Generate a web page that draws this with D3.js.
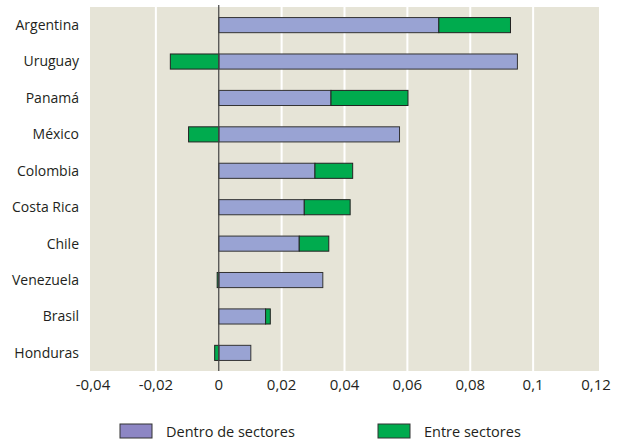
<!DOCTYPE html>
<meta charset="utf-8">
<script src="https://d3js.org/d3.v7.min.js"></script>
<style>
  body { margin: 0; background: #fff; }
  text { font-family: "Open Sans", Lato, sans-serif; fill: #231f20; }
</style>
<body>
<div id="my_dataviz"></div>
<script>
// countries, top to bottom
var countries = ["Argentina", "Uruguay", "Panamá", "México", "Colombia", "Costa Rica", "Chile", "Venezuela", "Brasil", "Honduras"];
// within-sector component
var dentro = [0.0700, 0.0950, 0.0357, 0.0575, 0.0306, 0.0272, 0.0256, 0.0331, 0.0149, 0.0102];
// between-sector component
var entre = [0.0228, -0.0154, 0.0245, -0.0096, 0.0120, 0.0146, 0.0094, -0.0005, 0.0015, -0.0013];
var xTicks = [-0.04, -0.02, 0, 0.02, 0.04, 0.06, 0.08, 0.1, 0.12];
var seriesNames = ["Dentro de sectores", "Entre sectores"];
var colors = ["#99a3d3", "#00ab4e"];

var width = 622, height = 444;

var svg = d3.select("#my_dataviz")
  .append("svg")
    .attr("width", width)
    .attr("height", height);

var x = d3.scaleLinear()
    .domain([-0.04, 0.12])
    .range([93, 596]);

var y = d3.scaleBand()
    .domain(countries)
    .range([7, 371])
    .paddingInner(0.585)
    .paddingOuter(0.29);

// background
svg.append("rect")
    .attr("x", x(-0.04) - 3)
    .attr("y", 7)
    .attr("width", x(0.12) - x(-0.04) + 6)
    .attr("height", 364)
    .attr("fill", "#e6e4d7");

// white gridlines
svg.selectAll(".grid")
  .data(xTicks.filter(function(d) { return d > -0.04 && d < 0.12 && d !== 0; }))
  .enter().append("line")
    .attr("x1", function(d) { return x(d); })
    .attr("x2", function(d) { return x(d); })
    .attr("y1", 7)
    .attr("y2", 371)
    .attr("stroke", "#fff")
    .attr("stroke-width", 2);

var rows = countries.map(function(c, i) {
  return { name: c, dentro: dentro[i], entre: entre[i] };
});

// bars: blue from 0, green stacked after (or to the left if negative)
var g = svg.append("g");
rows.forEach(function(d) {
  var yy = y(d.name), h = y.bandwidth();
  g.append("rect")
    .attr("x", x(0))
    .attr("y", yy)
    .attr("width", x(d.dentro) - x(0))
    .attr("height", h)
    .attr("fill", colors[0])
    .attr("stroke", "#333")
    .attr("stroke-width", 1);
  var a = d.entre >= 0 ? d.dentro : d.entre;
  var b = d.entre >= 0 ? d.dentro + d.entre : 0;
  g.append("rect")
    .attr("x", x(a))
    .attr("y", yy)
    .attr("width", x(b) - x(a))
    .attr("height", h)
    .attr("fill", colors[1])
    .attr("stroke", "#222")
    .attr("stroke-width", 1);
});

// zero line
svg.append("line")
    .attr("x1", x(0)).attr("x2", x(0))
    .attr("y1", 5).attr("y2", 371)
    .attr("stroke", "#444")
    .attr("stroke-width", 1.2);

// country labels
svg.selectAll(".lab")
  .data(countries)
  .enter().append("text")
    .attr("x", 79)
    .attr("y", function(d) { return y(d) + y.bandwidth() / 2; })
    .attr("dy", "0.35em")
    .attr("text-anchor", "end")
    .style("font-size", "14px")
    .text(function(d) { return d; });

// x tick labels
var fmt = function(d) { return String(d).replace(".", ","); };
svg.selectAll(".tick")
  .data(xTicks)
  .enter().append("text")
    .attr("x", function(d) { return x(d); })
    .attr("y", 390)
    .attr("text-anchor", "middle")
    .style("font-size", "15px")
    .text(fmt);

// legend
var legX = [120, 378];
seriesNames.forEach(function(s, i) {
  svg.append("rect")
    .attr("x", legX[i]).attr("y", 424)
    .attr("width", 32).attr("height", 14)
    .attr("fill", i === 0 ? "#8d86c4" : colors[1])
    .attr("stroke", "#333").attr("stroke-width", 1);
  svg.append("text")
    .attr("x", legX[i] + 46).attr("y", 437)
    .style("font-size", "14.5px")
    .text(s);
});
</script>
</body>
